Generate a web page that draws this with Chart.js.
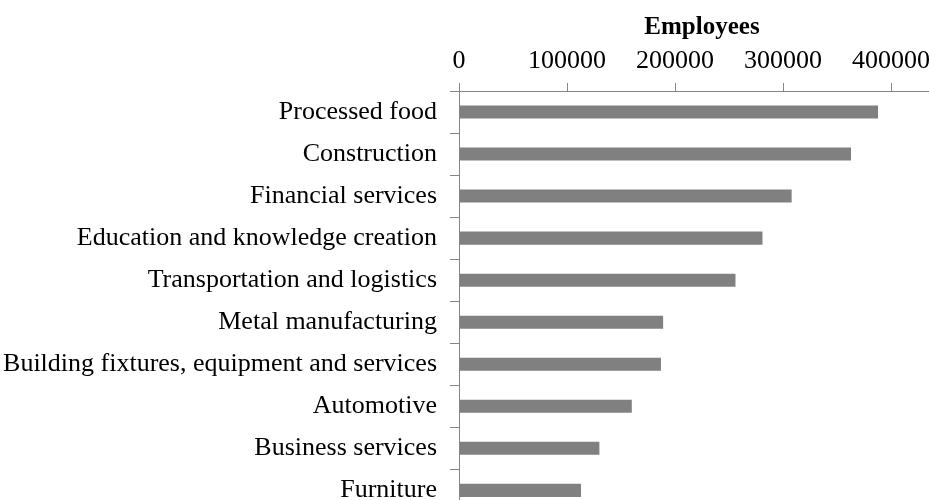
<!DOCTYPE html>
<html>
<head>
<meta charset="utf-8">
<script src="https://cdn.jsdelivr.net/npm/chart.js@4"></script>
<style>
  html, body { margin: 0; padding: 0; background: #fff; overflow: hidden; }
  #wrap { width: 929px; height: 500px; overflow: hidden; }
</style>
</head>
<body>
<div id="wrap">
  <canvas id="employeesChart" width="945" height="540"></canvas>
</div>
<script>
// Employees by industry cluster
const categories = [
    'Processed food',
    'Construction',
    'Financial services',
    'Education and knowledge creation',
    'Transportation and logistics',
    'Metal manufacturing',
    'Building fixtures, equipment and services',
    'Automotive',
    'Business services',
    'Furniture'
];
const employees = [388000, 363000, 308000, 281000, 256000, 189000, 187000, 160000, 130000, 113000];
const xTicks = [0, 100000, 200000, 300000, 400000];

const serif = '"Liberation Serif", "Times New Roman", serif';
const axisGray = '#868686';

function initializeEmployeesChart() {
    const ctx = document.getElementById('employeesChart').getContext('2d');

    new Chart(ctx, {
        type: 'bar',
        data: {
            labels: categories,
            datasets: [{
                label: 'Employees',
                data: employees,
                backgroundColor: '#808080',
                borderWidth: 0,
                categoryPercentage: 1,
                barPercentage: 0.31
            }]
        },
        options: {
            indexAxis: 'y',
            responsive: false,
            animation: false,
            layout: { padding: 0 },
            plugins: {
                legend: { display: false },
                tooltip: { enabled: false }
            },
            scales: {
                x: {
                    position: 'top',
                    min: 0,
                    max: 450000,
                    afterFit: scale => { scale.height = 91; },
                    afterBuildTicks: scale => {
                        scale.ticks = xTicks.map(v => ({ value: v }));
                    },
                    ticks: {
                        color: '#000',
                        font: { family: serif, size: 26 },
                        padding: 6,
                        maxRotation: 0,
                        callback: value => String(value)
                    },
                    grid: {
                        drawOnChartArea: false,
                        drawTicks: true,
                        tickLength: 8,
                        color: axisGray
                    },
                    border: { color: axisGray, width: 1 },
                    title: {
                        display: true,
                        text: 'Employees',
                        color: '#000',
                        font: { family: serif, size: 25, weight: 'bold' },
                        padding: { top: 13, bottom: 0 }
                    }
                },
                y: {
                    afterFit: scale => { scale.width = 459; },
                    ticks: {
                        color: '#000',
                        font: { family: serif, size: 26 },
                        padding: 13,
                        autoSkip: false
                    },
                    grid: {
                        offset: true,
                        drawOnChartArea: false,
                        drawTicks: true,
                        tickLength: 9,
                        color: axisGray
                    },
                    border: { color: axisGray, width: 1 }
                }
            }
        }
    });
}

document.addEventListener('DOMContentLoaded', initializeEmployeesChart);
</script>
</body>
</html>
